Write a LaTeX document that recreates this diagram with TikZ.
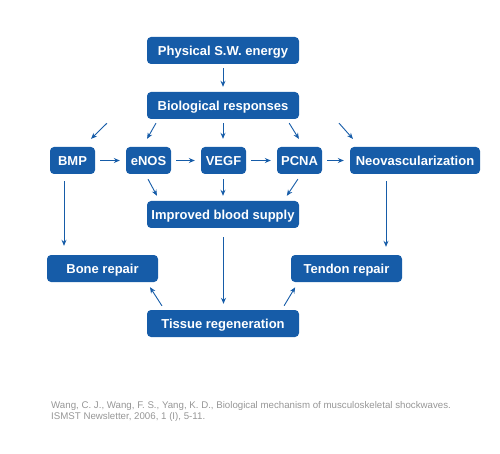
\documentclass[tikz,border=0pt]{standalone}
\usepackage{fontspec}
\setmainfont{Liberation Sans}
\usetikzlibrary{arrows.meta}
\definecolor{swblue}{RGB}{22,92,168}
\definecolor{citegray}{RGB}{150,150,150}
\tikzset{box/.style={rounded corners=4pt, fill=swblue, text=white, font=\bfseries\fontsize{13}{15}\selectfont,
		minimum height=27pt, inner sep=0pt, text height=9.4pt, text depth=0pt},
	arr/.style={draw=swblue, line width=0.9pt, -{Stealth[length=6pt,width=5pt]}}}

\begin{document}
\begin{tikzpicture}[x=1pt,y=-1pt]
		\useasboundingbox (0,0) rectangle (500,454);
		\begin{scope}[every node/.style={box}]
			\node[minimum width=152pt](phys) at (223, 50.5) {Physical S.W. energy};
			\node[minimum width=152pt](bio) at (223, 105.5) {Biological responses};
			\node[minimum width=45pt](bmp) at (72.5, 160.5) {BMP};
			\node[minimum width=45pt](enos) at (148.5, 160.5) {eNOS};
			\node[minimum width=45pt](vegf) at (223.5, 160.5) {VEGF};
			\node[minimum width=45pt](pcna) at (299.5, 160.5) {PCNA};
			\node[minimum width=130pt](neo) at (415, 160.5) {Neovascularization};
			\node[minimum width=152pt](blood) at (223, 214.5) {Improved blood supply};
			\node[minimum width=111pt](bone) at (102.5, 268.5) {Bone repair};
			\node[minimum width=111pt](tendon) at (346.5, 268.5) {Tendon repair};
			\node[minimum width=152pt](tissue) at (223, 323.5) {Tissue regeneration};
		\end{scope}
		\draw[arr, shorten <=4pt, shorten >=5pt] (phys.south) -- (bio.north);
		% fan out from biological responses
		\draw[arr, shorten <=5.7pt, shorten >=11.3pt] ([xshift=-112pt]bio.south) -- ([xshift=10.5pt]bmp.north);
		\draw[arr, shorten <=4.6pt, shorten >=9.2pt] ([xshift=-64.75pt]bio.south) -- ([xshift=-6pt]enos.north);
		\draw[arr, shorten <=4pt, shorten >=8pt] (bio.south) -- ([xshift=-0.5pt]vegf.north);
		\draw[arr, shorten <=4.6pt, shorten >=9.2pt] ([xshift=63.75pt]bio.south) -- ([xshift=4.25pt]pcna.north);
		\draw[arr, shorten <=5.3pt, shorten >=10.6pt] ([xshift=112.5pt]bio.south) -- ([xshift=-55pt]neo.north);
		% the row
		\draw[arr, shorten <=5pt, shorten >=6pt] (bmp) -- (enos);
		\draw[arr, shorten <=5pt, shorten >=6pt] (enos) -- (vegf);
		\draw[arr, shorten <=5pt, shorten >=6pt] (vegf) -- (pcna);
		\draw[arr, shorten <=5pt, shorten >=6pt] (pcna) -- (neo);
		% into blood supply
		\draw[arr, shorten <=5.7pt, shorten >=5.7pt] ([xshift=-3.15pt]enos.south) -- ([xshift=-63.35pt]blood.north);
		\draw[arr, shorten <=5pt, shorten >=5pt] ([xshift=-0.5pt]vegf.south) -- (blood.north);
		\draw[arr, shorten <=6pt, shorten >=6pt] ([xshift=1.7pt]pcna.south) -- ([xshift=60.5pt]blood.north);
		% down to repairs
		\draw[arr, shorten <=7pt, shorten >=9pt] ([xshift=-8.5pt]bmp.south) -- ([xshift=-38.5pt]bone.north);
		\draw[arr, shorten <=7pt, shorten >=8pt] ([xshift=-29pt]neo.south) -- ([xshift=39.5pt]tendon.north);
		\draw[arr, shorten <=9pt, shorten >=6pt] ([xshift=0.5pt]blood.south) -- ([xshift=0.5pt]tissue.north);
		\draw[arr, shorten <=4.7pt, shorten >=5.9pt] ([xshift=-58.5pt]tissue.north) -- ([xshift=44.3pt]bone.south);
		\draw[arr, shorten <=4.7pt, shorten >=5.9pt] ([xshift=58.7pt]tissue.north) -- ([xshift=-48.3pt]tendon.south);
		% reference
		\node[anchor=north west, align=left, inner sep=0pt, text=citegray, font=\fontsize{9.7}{10.5}\selectfont](cite) at (51, 401.5) {Wang, C. J., Wang, F. S., Yang, K. D., Biological mechanism of musculoskeletal shockwaves.\\ISMST Newsletter, 2006, 1 (I), 5-11.};
	\end{tikzpicture}
\end{document}
